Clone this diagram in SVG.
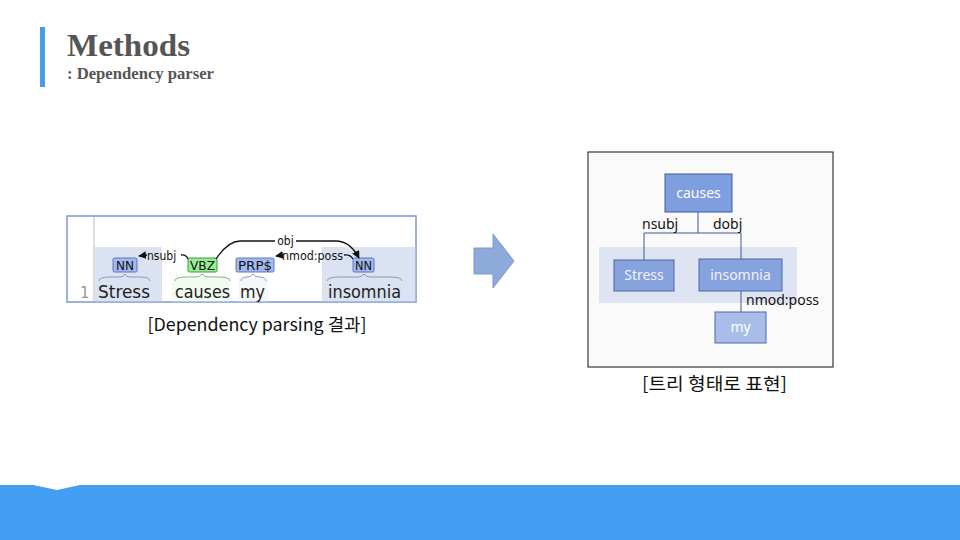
<svg xmlns="http://www.w3.org/2000/svg" width="960" height="540" viewBox="0 0 960 540">
<defs>
<style>
.cap{font-family:"Noto Sans CJK KR","Noto Sans",sans-serif;font-size:17.5px;fill:#111;}
.word{font-family:"DejaVu Sans Condensed","DejaVu Sans",sans-serif;font-size:18px;fill:#222;}
.tagt{font-family:"DejaVu Sans Condensed","DejaVu Sans",sans-serif;font-size:13px;fill:#111;}
.lab{font-family:"DejaVu Sans Condensed","DejaVu Sans",sans-serif;font-size:12px;fill:#111;}
.arc{fill:none;stroke:#111;stroke-width:1.3;}
.brace{fill:none;stroke:#8a9ab8;stroke-width:1;}
.nn{fill:#a2b8ee;stroke:#5a78c0;stroke-width:1;}
.vbz{fill:#94ee94;stroke:#3c9a3c;stroke-width:1;}
.tnode{stroke:#3d5a99;stroke-width:1;}
.tt{font-family:"Noto Sans","DejaVu Sans",sans-serif;font-size:14px;fill:#fff;text-anchor:middle;}
.tl{font-family:"Noto Sans","DejaVu Sans",sans-serif;font-size:14px;fill:#111;}
.edge{stroke:#3d5a99;stroke-width:1;fill:none;}
</style>
<marker id="ah" viewBox="0 0 10 10" refX="9" refY="5" markerWidth="6" markerHeight="6" orient="auto-start-reverse">
<path d="M0,0 L10,5 L0,10 z" fill="#111"/>
</marker>
</defs>
<rect width="960" height="540" fill="#fff"/>
<!-- header -->
<rect x="40" y="27" width="5" height="60" fill="#4a9af0"/>
<text x="67" y="56" font-family="Liberation Serif,serif" font-weight="bold" font-size="32" fill="#555" textLength="123" lengthAdjust="spacingAndGlyphs">Methods</text>
<text x="67" y="79" font-family="Liberation Serif,serif" font-weight="bold" font-size="17" fill="#555" textLength="147" lengthAdjust="spacingAndGlyphs">: Dependency parser</text>
<!-- bottom band -->
<path d="M0,485 L33,485 L57,490 L80,485 L960,485 L960,540 L0,540 z" fill="#449ef3"/>

<!-- left dependency parse panel -->
<g id="parse-panel">
<rect x="67" y="216" width="349" height="86" fill="#fff" stroke="#8aa2d8" stroke-width="1.2"/>
<rect x="95" y="247" width="67" height="55" fill="#dbe2f2"/>
<rect x="322" y="247" width="94" height="55" fill="#dbe2f2"/>
<rect x="172" y="278" width="58" height="24" fill="#f2fbf0"/>
<rect x="238" y="278" width="30" height="24" fill="#f6f7fb"/>
<line x1="94" y1="216" x2="94" y2="302" stroke="#bbb" stroke-width="1"/>
<rect x="67" y="216" width="349" height="86" fill="none" stroke="#8aa2d8" stroke-width="1.2"/>
<text x="80" y="298" font-family="DejaVu Sans,sans-serif" font-size="15" fill="#999">1</text>
</g>
<g id="w-stress">
<rect class="nn" x="113" y="258" width="24" height="14" rx="1.5"/>
<text class="tagt" x="116" y="270" textLength="18" lengthAdjust="spacingAndGlyphs">NN</text>
<path class="brace" d="M99,281 Q99,277 110,277 L120,277 Q124,277 125,274 Q126,277 130,277 L140,277 Q150,277 150,281"/>
<text class="word" x="98" y="298" textLength="52" lengthAdjust="spacingAndGlyphs">Stress</text>
</g>
<g id="w-causes">
<rect class="vbz" x="188" y="258" width="29" height="14" rx="1.5"/>
<text class="tagt" x="190" y="270" textLength="25" lengthAdjust="spacingAndGlyphs">VBZ</text>
<path class="brace" d="M175,281 Q175,277 186,277 L196,277 Q200,277 202,274 Q204,277 208,277 L219,277 Q230,277 230,281" style="stroke:#7fb07f"/>
<text class="word" x="175" y="298" textLength="55" lengthAdjust="spacingAndGlyphs">causes</text>
</g>
<g id="w-my">
<rect class="nn" x="236" y="258" width="38" height="14" rx="1.5"/>
<text class="tagt" x="238" y="270" textLength="34" lengthAdjust="spacingAndGlyphs">PRP$</text>
<path class="brace" d="M241,281 Q241,277 247,277 Q251,277 253,274 Q255,277 259,277 Q266,277 266,281"/>
<text class="word" x="240" y="298" textLength="25" lengthAdjust="spacingAndGlyphs">my</text>
</g>
<g id="w-insomnia">
<rect class="nn" x="353" y="258" width="21" height="14" rx="1.5"/>
<text class="tagt" x="355" y="270" textLength="17" lengthAdjust="spacingAndGlyphs">NN</text>
<path class="brace" d="M327,281 Q327,277 340,277 L358,277 Q362,277 364,274 Q366,277 370,277 L390,277 Q402,277 402,281"/>
<text class="word" x="328" y="298" textLength="73" lengthAdjust="spacingAndGlyphs">insomnia</text>
</g>
<g id="parse-arcs">
<path class="arc" d="M188,259 Q186,254 181,255" />
<text class="lab" x="147" y="260">nsubj</text>
<path class="arc" d="M147,255 L139,256" marker-end="url(#ah)"/>
<path class="arc" d="M216,259 Q228,241 240,241 L275,241"/>
<path class="arc" d="M296,241 L336,241 Q350,241 359,258" marker-end="url(#ah)"/>
<text class="lab" x="285.5" y="245" text-anchor="middle">obj</text>
<path class="arc" d="M353,259 Q350,254 344,255"/>
<text class="lab" x="282" y="260" textLength="61" lengthAdjust="spacingAndGlyphs">nmod:poss</text>
<path class="arc" d="M282,255 L276,256" marker-end="url(#ah)"/>
</g>
<text class="cap" x="257" y="331" text-anchor="middle" textLength="219" lengthAdjust="spacingAndGlyphs">[Dependency parsing 결과]</text>

<!-- big arrow -->
<g id="big-arrow">
<path d="M474,248 L493,248 L493,234 L514,261 L493,288 L493,274 L474,274 z" fill="#8eaadb" stroke="#7a98d0" stroke-width="1"/>
</g>

<!-- right tree panel -->
<g id="tree-panel">
<rect x="588" y="152" width="245" height="215" fill="#fafafa" stroke="#111" stroke-width="1"/>
<rect x="599" y="247" width="198" height="56" fill="#dee4f2"/>
</g>
<g id="tree-edges">
<path class="edge" d="M698,212 L698,233 M644,233 L741,233 M644,233 L644,260 M741,233 L741,259 M741,291 L741,312"/>
</g>
<text class="tl" x="642" y="229">nsubj</text>
<text class="tl" x="713" y="229">dobj</text>
<text class="tl" x="746" y="305">nmod:poss</text>
<g id="t-causes">
<rect class="tnode" x="665" y="174" width="67" height="38" fill="#7f9ee0"/>
<text class="tt" x="698.5" y="198">causes</text>
</g>
<g id="t-stress">
<rect class="tnode" x="614" y="260" width="60" height="31" fill="#87a3dd" style="stroke:#4a68a8"/>
<text class="tt" x="644" y="280" style="fill:#eef2fb">Stress</text>
</g>
<g id="t-insomnia">
<rect class="tnode" x="699" y="259" width="83" height="32" fill="#87a3dd" style="stroke:#4a68a8"/>
<text class="tt" x="740.5" y="280" style="fill:#eef2fb">insomnia</text>
</g>
<g id="t-my">
<rect class="tnode" x="715" y="312" width="51" height="31" fill="#a9bde8" style="stroke:#4a68a8"/>
<text class="tt" x="740.5" y="332">my</text>
</g>
<text class="cap" x="714.5" y="390" text-anchor="middle" textLength="145" lengthAdjust="spacingAndGlyphs">[트리 형태로 표현]</text>
</svg>
